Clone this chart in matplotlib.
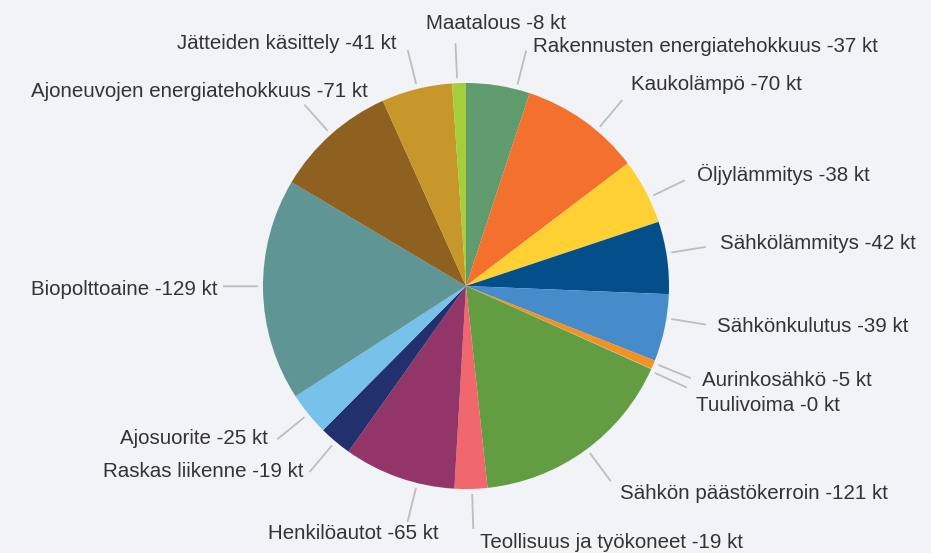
import numpy as np
import matplotlib
matplotlib.use("Agg")
import matplotlib.pyplot as plt

plt.rcParams["font.family"] = ["Liberation Sans", "DejaVu Sans"]

# päästövähennykset (kt), myötäpäivään klo 12:sta
nimet = [
    "Rakennusten energiatehokkuus", "Kaukolämpö", "Öljylämmitys", "Sähkölämmitys",
    "Sähkönkulutus", "Aurinkosähkö", "Tuulivoima", "Sähkön päästökerroin",
    "Teollisuus ja työkoneet", "Henkilöautot", "Raskas liikenne", "Ajosuorite",
    "Biopolttoaine", "Ajoneuvojen energiatehokkuus", "Jätteiden käsittely", "Maatalous",
]
arvot = [37, 70, 38, 42, 39, 5, 0.3, 121, 19, 65, 19, 25, 129, 71, 41, 8]
varit = [
    "#5f9b6c", "#f3702d", "#fed034", "#044f89", "#468bca", "#f7901e", "#9cc8e8",
    "#639d42", "#f0686d", "#923569", "#23306e", "#77c2eb", "#5f9595", "#8e6121",
    "#c7972a", "#a4cf3b",
]

# tekstien sijoittelu: (kulman säätö astetta, dx, dy, tasaus) pikseleinä
asettelu = [
    (5.2, 7, -4, "left"), (4.5, 9, -15, "left"), (2.0, 12, -6, "left"),
    (-1.2, 14, -3, "left"), (-2.8, 11, 2, "left"), (-0.5, 11, 2, "left"),
    (0.6, 9, 18, "left"), (-0.6, 9, 12, "left"), (-0.3, 7, 14, "left"),
    (-5.4, 31, 12, "right"), (0, -6, 0, "right"), (0, -9, -1, "right"),
    (1.0, -6, 3, "right"), (0, 63, -13, "right"), (0.2, -11, -7, "right"),
    (-0.5, 40, -20, "center"),
]

W, H = 931, 553
cx, cy, R = 466, 286, 203

fig = plt.figure(figsize=(W / 100, H / 100), dpi=100)
fig.patch.set_facecolor("#f2f3f6")
ax = fig.add_axes([0, 0, 1, 1])
ax.set_facecolor("#f2f3f6")

wedges, _ = ax.pie(arvot, colors=varit, startangle=-90, counterclock=True,
                   center=(cx, cy), radius=R, frame=False)
ax.set_xlim(0, W)
ax.set_ylim(H, 0)
ax.set_aspect("equal")
ax.axis("off")

for w, nimi, arvo, (saato, dx, dy, ha) in zip(wedges, nimet, arvot, asettelu):
    kulma = np.deg2rad((w.theta1 + w.theta2) / 2 + saato)
    x0, y0 = cx + (R + 5) * np.cos(kulma), cy + (R + 5) * np.sin(kulma)
    x1, y1 = cx + (R + 40) * np.cos(kulma), cy + (R + 40) * np.sin(kulma)
    ax.plot([x0, x1], [y0, y1], color="#bdbdbd", lw=1.3, solid_capstyle="butt")
    ax.text(x1 + dx, y1 + dy, f"{nimi} -{arvo:.0f} kt", ha=ha, va="center",
            fontsize=14.8, color="#333333")

fig.savefig("out.png", dpi=100, facecolor=fig.get_facecolor())
